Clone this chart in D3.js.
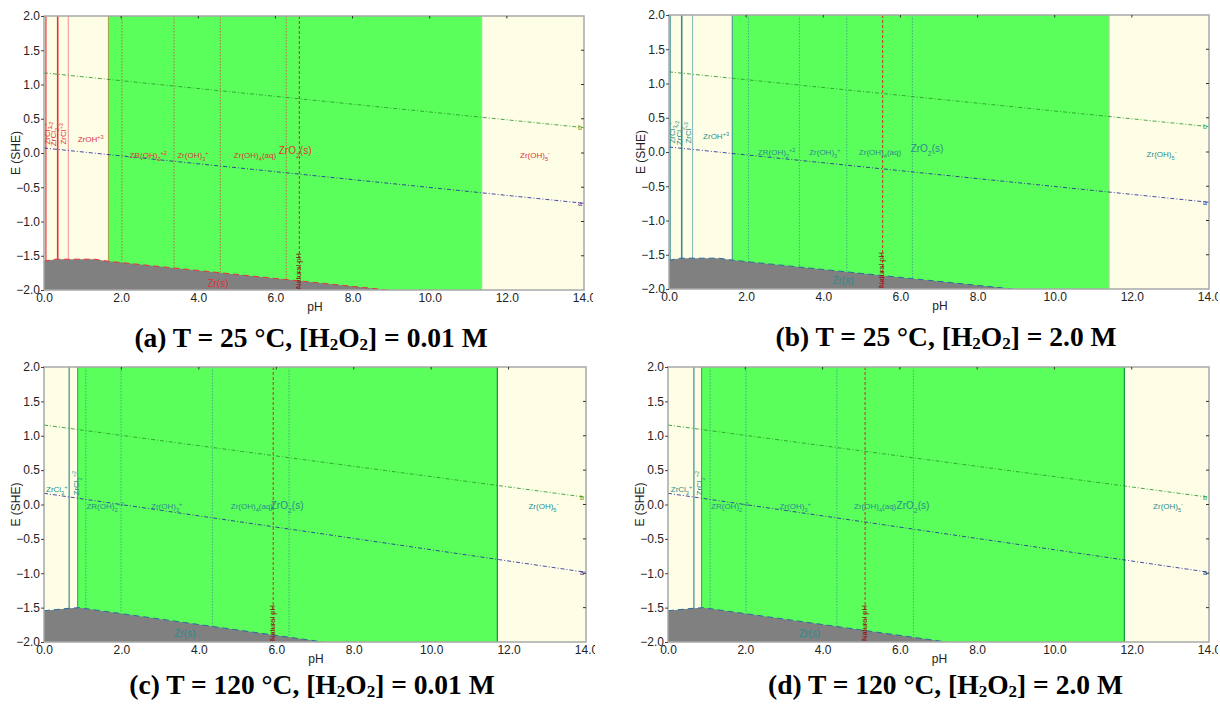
<!DOCTYPE html>
<html><head><meta charset="utf-8">
<script src="https://cdn.jsdelivr.net/npm/d3@7"></script>
<style>body{margin:0;background:#fff}svg{display:block}</style>
</head><body>
<svg id="chart" width="1220" height="709"></svg>
<script>
// ---------- data ----------
const panelIds = ["a", "b", "c", "d"];
const temps = [25, 25, 120, 120];
const peroxide = ["0.01", "2.0", "0.01", "2.0"];
const xTicks = [0, 2, 4, 6, 8, 10, 12, 14];
const yTicks = [2, 1.5, 1, 0.5, 0, -0.5, -1, -1.5, -2];
const zro2Start = [1.67, 1.64, 0.87, 0.87];
const zro2End = [11.35, 11.41, 11.71, 11.81];
const naturalPH = [6.62, 5.54, 5.92, 5.10];
const boundariesA = [0.05, 0.355, 0.63, 2.02, 3.37, 4.57, 6.28];
const boundariesB = [0.03, 0.33, 0.61, 2.06, 3.38, 4.61, 6.31];
const boundariesC = [0.65, 1.08, 1.99, 4.35, 6.33];
const boundariesD = [0.67, 1.09, 2.02, 4.37, 6.35];
const zrEdge25pH = [0, 0.3, 1.3, 1.67, 8.92];
const zrEdge25E = [-1.58, -1.55, -1.55, -1.58, -2.0];
const zrEdge120pH = [0, 0.65, 0.9, 7.21];
const zrEdge120E = [-1.545, -1.51, -1.50, -2.0];
const waterB25 = [1.17, 0.37];    // E at pH 0 and pH 14
const waterA25 = [0.073, -0.734];
const waterB120 = [1.156, 0.105];
const waterA120 = [0.163, -0.986];
const speciesNames = ["ZrOH^{+3}", "ZR(OH)_{2}^{+2}", "Zr(OH)_{3}^{+}", "Zr(OH)_{4}(aq)", "ZrO_{2}(s)", "Zr(OH)_{5}^{-}", "Zr(s)"];
const speciesPH_a = [1.21, 2.70, 3.86, 5.47, 6.51, 12.73, 4.51];
const speciesE_a = [0.20, -0.03, -0.03, -0.03, 0.04, -0.03, -1.90];
const speciesPH_b = [1.22, 2.79, 4.04, 5.47, 6.69, 12.77, 4.51];
const speciesE_b = [0.23, -0.01, -0.01, -0.01, 0.05, -0.03, -1.88];
const speciesPH_c = [null, 1.58, 3.17, 5.37, 6.28, 12.90, 3.64];
const speciesE_c = [null, -0.03, -0.03, -0.03, -0.01, -0.03, -1.88];
const speciesPH_d = [null, 1.60, 3.29, 5.36, 6.34, 12.94, 3.66];
const speciesE_d = [null, -0.03, -0.03, -0.03, -0.01, -0.03, -1.88];
const chlorideNames = ["ZrCl_{3}^{+}", "ZrCl_{2}^{+2}", "ZrCl^{+3}"];
const chloridePH_a = [0.07, 0.25, 0.49];
const chloridePH_b = [0.07, 0.26, 0.49];
const chloridePH_c = [0.33, 0.83, null];
const chloridePH_d = [0.35, 0.81, null];
const chlorideE_ab = [0.28, 0.28, 0.28];
const chlorideE_cd = [0.22, 0.31, null];

// ---------- layout ----------
const svg = d3.select("#chart");
const geo = [
  {x0: 44, x1: 584, y0: 16, y1: 290},
  {x0: 669, x1: 1209, y0: 15, y1: 289},
  {x0: 44, x1: 586, y0: 367, y1: 642},
  {x0: 668, x1: 1209, y0: 367, y1: 642}
];
const boundaries = [boundariesA, boundariesB, boundariesC, boundariesD];
const speciesPH = [speciesPH_a, speciesPH_b, speciesPH_c, speciesPH_d];
const speciesE = [speciesE_a, speciesE_b, speciesE_c, speciesE_d];
const chloridePH = [chloridePH_a, chloridePH_b, chloridePH_c, chloridePH_d];
const chlorideE = [chlorideE_ab, chlorideE_ab, chlorideE_cd, chlorideE_cd];

function rich(sel, str) {
  const re = /([_^])\{([^}]*)\}/g;
  let last = 0, m;
  while ((m = re.exec(str)) !== null) {
    if (m.index > last) sel.append("tspan").text(str.slice(last, m.index));
    sel.append("tspan").attr("font-size", "70%")
      .attr("baseline-shift", m[1] === "_" ? "sub" : "super").text(m[2]);
    last = re.lastIndex;
  }
  if (last < str.length) sel.append("tspan").text(str.slice(last));
}

panelIds.forEach((id, i) => {
  const g0 = geo[i];
  const hot = temps[i] > 50;
  const labelColor = i === 0 ? "#e0303a" : "#2a8c8c";
  const lineColor = i === 0 ? "#e8323c" : "#3a9090";
  const x = d3.scaleLinear().domain([0, 14]).range([g0.x0, g0.x1]);
  const y = d3.scaleLinear().domain([-2, 2]).range([g0.y1, g0.y0]);
  const g = svg.append("g");

  const clipId = "clip" + id;
  svg.append("clipPath").attr("id", clipId).append("rect")
    .attr("x", g0.x0).attr("y", g0.y0).attr("width", g0.x1 - g0.x0).attr("height", g0.y1 - g0.y0);
  const tclip = "tclip" + id;
  svg.append("clipPath").attr("id", tclip).append("rect")
    .attr("x", g0.x0 - 45).attr("y", g0.y0 - 10).attr("width", g0.x1 - g0.x0 + 54).attr("height", g0.y1 - g0.y0 + 40);

  const p = g.append("g").attr("clip-path", `url(#${clipId})`);
  // background (aqueous species)
  p.append("rect").attr("x", x(0)).attr("y", y(2)).attr("width", x(14) - x(0)).attr("height", y(-2) - y(2)).attr("fill", "#fefee6");
  // ZrO2(s) region
  p.append("rect").attr("x", x(zro2Start[i])).attr("y", y(2))
    .attr("width", x(zro2End[i]) - x(zro2Start[i])).attr("height", y(-2) - y(2)).attr("fill", "#5bff5b");
  p.append("line").attr("x1", x(zro2Start[i])).attr("x2", x(zro2Start[i])).attr("y1", y(2)).attr("y2", y(-2))
    .attr("stroke", i === 0 ? "#a0a040" : "#3a9090").attr("stroke-width", 1);
  p.append("line").attr("x1", x(zro2End[i])).attr("x2", x(zro2End[i])).attr("y1", y(2)).attr("y2", y(-2))
    .attr("stroke", hot ? "#1a9a40" : "#9adf8a").attr("stroke-width", hot ? 1.3 : 1);

  // vertical species boundaries
  const nSolid = hot ? 1 : 3;
  boundaries[i].forEach((ph, k) => {
    const solid = k < nSolid;
    p.append("line").attr("x1", x(ph)).attr("x2", x(ph)).attr("y1", y(2)).attr("y2", y(-2))
      .attr("stroke", (!hot && k === 2) ? (i === 0 ? "#f4a0a0" : "#8cc0c0") : lineColor)
      .attr("stroke-width", solid ? (k === 1 ? 1.6 : 1.2) : 1)
      .attr("stroke-dasharray", solid ? null : "1.5,1.5")
      .attr("opacity", solid ? 1 : 0.75);
  });

  // Zr(s) region
  const ePH = hot ? zrEdge120pH : zrEdge25pH;
  const eE = hot ? zrEdge120E : zrEdge25E;
  const edge = ePH.map((ph, k) => [x(ph), y(eE[k])]);
  const poly = edge.concat([[x(ePH[ePH.length - 1]), y(-2)], [x(0), y(-2)]]);
  p.append("path").attr("d", d3.line()(poly)).attr("fill", "#808080");
  p.append("path").attr("d", d3.line()(edge)).attr("fill", "none")
    .attr("stroke", i === 0 ? "#e8323c" : "#2a6aa0").attr("stroke-width", 1).attr("stroke-dasharray", "6,4");

  // water lines
  const wb = hot ? waterB120 : waterB25;
  const wa = hot ? waterA120 : waterA25;
  [[wb, "#2a9a2a", "b"], [wa, "#2a2aa0", "a"]].forEach(([w, c, lab]) => {
    p.append("line").attr("x1", x(0)).attr("x2", x(14)).attr("y1", y(w[0])).attr("y2", y(w[1]))
      .attr("stroke", c).attr("stroke-width", 1).attr("stroke-dasharray", "4,2,1,2").attr("opacity", 0.85);
    p.append("text").attr("x", x(14) - 2).attr("y", y(w[1]) + 2.5).attr("text-anchor", "end")
      .attr("font-family", "Liberation Sans, Arial").attr("font-size", 7).attr("fill", c).text(lab);
  });

  // natural pH
  p.append("line").attr("x1", x(naturalPH[i])).attr("x2", x(naturalPH[i])).attr("y1", y(2)).attr("y2", y(-2))
    .attr("stroke", "#d02828").attr("stroke-width", 1).attr("stroke-dasharray", "3,2");
  p.append("text").attr("transform", `translate(${x(naturalPH[i]) - 1},${y(-2) - 1}) rotate(-90)`)
    .attr("text-anchor", "start").attr("dy", "0.35em")
    .attr("font-family", "Liberation Sans, Arial").attr("font-size", 7.5).attr("fill", "#8a1010").text("Natural pH");

  // species labels
  speciesNames.forEach((nm, k) => {
    const ph = speciesPH[i][k];
    if (ph === null) return;
    const big = k === 4 || k === 6;
    const t = p.append("text").attr("x", x(ph)).attr("y", y(speciesE[i][k])).attr("dy", "0.35em")
      .attr("text-anchor", "middle").attr("font-family", "Liberation Sans, Arial")
      .attr("font-size", big ? 10 : 8).attr("fill", labelColor);
    rich(t, nm);
  });
  chlorideNames.forEach((nm, k) => {
    const ph = chloridePH[i][k];
    if (ph === null) return;
    const rotated = !(hot && k === 0);
    const t = p.append("text").attr("text-anchor", "middle").attr("dy", "0.35em")
      .attr("font-family", "Liberation Sans, Arial").attr("font-size", 8).attr("fill", labelColor)
      .attr("transform", `translate(${x(ph)},${y(chlorideE[i][k])})` + (rotated ? " rotate(-90)" : ""));
    rich(t, nm);
  });

  // frame
  g.append("rect").attr("x", g0.x0).attr("y", g0.y0).attr("width", g0.x1 - g0.x0).attr("height", g0.y1 - g0.y0)
    .attr("fill", "none").attr("stroke", "#a8a8a8").attr("stroke-width", 1.5);
  // inner ticks top and right
  g.selectAll(".tt").data(xTicks.slice(1, -1)).enter().append("line")
    .attr("x1", d => x(d)).attr("x2", d => x(d)).attr("y1", g0.y0).attr("y2", g0.y0 + 2.5).attr("stroke", "#333");
  g.selectAll(".rt").data(yTicks.slice(1, -1)).enter().append("line")
    .attr("x1", g0.x1).attr("x2", g0.x1 - 3).attr("y1", d => y(d)).attr("y2", d => y(d)).attr("stroke", "#333");

  // axes
  const ax = g.append("g").attr("clip-path", `url(#${tclip})`);
  const yAxis = ax.append("g").attr("transform", `translate(${g0.x0},0)`)
    .call(d3.axisLeft(y).tickValues(yTicks).tickFormat(d3.format(".1f")).tickSize(3).tickPadding(1));
  const xAxis = ax.append("g").attr("transform", `translate(0,${g0.y1})`)
    .call(d3.axisBottom(x).tickValues(xTicks).tickFormat(d3.format(".1f")).tickSize(0).tickPadding(3));
  [yAxis, xAxis].forEach(a => {
    a.select(".domain").remove();
    a.selectAll("text").attr("font-family", "Liberation Sans, Arial").attr("font-size", 12).attr("fill", "#222");
    a.selectAll("line").attr("stroke", "#444");
  });

  // axis titles
  g.append("text").attr("transform", `translate(${g0.x0 - 24},${(g0.y0 + g0.y1) / 2}) rotate(-90)`)
    .attr("text-anchor", "middle").attr("font-family", "Liberation Sans, Arial").attr("font-size", 12)
    .attr("fill", "#222").text("E (SHE)");
  g.append("text").attr("x", (g0.x0 + g0.x1) / 2 + 1).attr("y", g0.y1 + 21)
    .attr("text-anchor", "middle").attr("font-family", "Liberation Sans, Arial").attr("font-size", 12)
    .attr("fill", "#222").text("pH");

  // caption
  const cap = svg.append("text").attr("x", (g0.x0 + g0.x1) / 2 + (i % 2 === 0 ? -3 : 7))
    .attr("y", g0.y1 + (i < 2 ? 57 : 52)).attr("text-anchor", "middle")
    .attr("font-family", "Liberation Serif, Times New Roman").attr("font-weight", "bold").attr("font-size", 27.5)
    .attr("fill", "#000");
  cap.append("tspan").text(`(${id})  T = ${temps[i]} °C, [H`);
  cap.append("tspan").attr("font-size", "62%").attr("baseline-shift", "-18%").text("2");
  cap.append("tspan").text("O");
  cap.append("tspan").attr("font-size", "62%").attr("baseline-shift", "-18%").text("2");
  cap.append("tspan").text(`] = ${peroxide[i]} M`);
});
</script>
</body></html>
